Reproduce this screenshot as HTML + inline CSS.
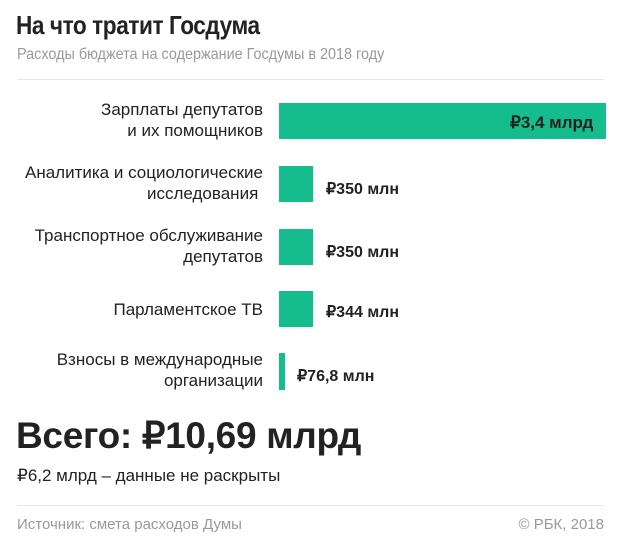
<!DOCTYPE html>
<html><head><meta charset="utf-8"><style>
body{margin:0;width:620px;height:549px;background:#fff;font-family:"Liberation Sans","Noto Sans CJK SC",sans-serif;color:#222;position:relative;overflow:hidden}
.a{position:absolute;white-space:nowrap}
.lab{position:absolute;right:357px;text-align:right;font-size:17px;line-height:21px;color:#222;white-space:nowrap}
.bar{position:absolute;left:279px;background:#14bd8b}
.val{position:absolute;font-size:16px;font-weight:bold;color:#222;letter-spacing:0px}
.hr{position:absolute;left:17px;width:587px;height:1px;background:#e6e6e6}
</style></head><body>
<div class="a" style="left:16px;top:10px;font-size:26px;font-weight:bold;letter-spacing:-0.5px;transform:scaleX(0.87);transform-origin:left">На что тратит Госдума</div>
<div class="a" style="left:17px;top:46px;font-size:16px;color:#999;transform:scaleX(0.9);transform-origin:left">Расходы бюджета на содержание Госдумы в 2018 году</div>
<div class="hr" style="top:79px"></div>

<div class="lab" style="top:99px">Зарплаты депутатов<br>и их помощников</div>
<div class="bar" style="top:103px;width:327px;height:36px"></div>
<div class="val" style="left:510px;top:113px;font-size:17px">₽3,4 млрд</div>

<div class="lab" style="top:162px">Аналитика и социологические<br>исследования&nbsp;</div>
<div class="bar" style="top:166px;width:34px;height:36px"></div>
<div class="val" style="left:326px;top:179px">₽350 млн</div>

<div class="lab" style="top:225px">Транспортное обслуживание<br>депутатов</div>
<div class="bar" style="top:229px;width:34px;height:36px"></div>
<div class="val" style="left:326px;top:242px">₽350 млн</div>

<div class="lab" style="top:299px">Парламентское ТВ</div>
<div class="bar" style="top:291px;width:34px;height:36px"></div>
<div class="val" style="left:326px;top:302px">₽344 млн</div>

<div class="lab" style="top:349px">Взносы в международные<br>организации</div>
<div class="bar" style="top:353px;width:6px;height:37px"></div>
<div class="val" style="left:297px;top:366px">₽76,8 млн</div>

<div class="a" style="left:16px;top:414px;font-size:37px;font-weight:bold;letter-spacing:-0.3px">Всего: ₽10,69 млрд</div>
<div class="a" style="left:17px;top:466px;font-size:17px">₽6,2 млрд – данные не раскрыты</div>
<div class="hr" style="top:505px"></div>
<div class="a" style="left:17px;top:516px;font-size:15px;color:#999">Источник: смета расходов Думы</div>
<div class="a" style="right:16px;top:516px;font-size:15px;color:#999">© РБК, 2018</div>
</body></html>
